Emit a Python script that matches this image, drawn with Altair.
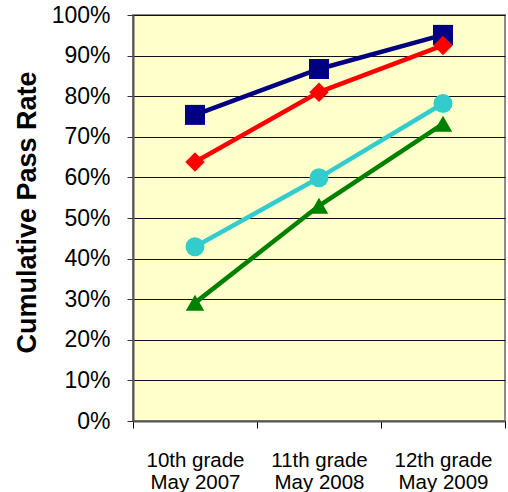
import altair as alt
import pandas as pd

categories = ["10th grade|May 2007", "11th grade|May 2008", "12th grade|May 2009"]
series_names = ["Series 1", "Series 2", "Series 3", "Series 4"]
series_values = [
    [0.754, 0.867, 0.951],
    [0.638, 0.810, 0.925],
    [0.429, 0.599, 0.782],
    [0.291, 0.530, 0.732],
]
series_colors = ["#000080", "#FF0000", "#33CCCC", "#008000"]
series_shapes = ["square", "diamond", "circle", "triangle-up"]
y_ticks = [0.0, 0.1, 0.2, 0.3, 0.4, 0.5, 0.6, 0.7, 0.8, 0.9, 1.0]

rows = []
for name, vals in zip(series_names, series_values):
    for cat, v in zip(categories, vals):
        rows.append({"cat": cat, "series": name, "value": v})
df = pd.DataFrame(rows)

x_enc = alt.X(
    "cat:N",
    sort=categories,
    scale=alt.Scale(type="band", paddingInner=0, paddingOuter=0),
    bandPosition=0.5,
    axis=alt.Axis(
        title=None,
        labelAngle=0,
        labelExpr="split(datum.label, '|')",
        labelFont="Liberation Sans",
        labelFontSize=20.5,
        labelLineHeight=22,
        labelColor="black",
        labelPadding=22,
        labelBaseline="top",
        tickBand="extent",
        tickSize=7,
        tickColor="black",
        tickWidth=1,
        domainColor="#555555",
        domainWidth=2,
        grid=False,
    ),
)
y_enc = alt.Y(
    "value:Q",
    scale=alt.Scale(domain=[0, 1], nice=False, zero=True),
    axis=alt.Axis(
        title="Cumulative Pass Rate",
        values=y_ticks,
        format=".0%",
        labelFont="Liberation Sans",
        labelFontSize=23,
        labelColor="black",
        labelPadding=17,
        tickSize=6,
        tickColor="#333333",
        domainColor="#555555",
        domainWidth=2,
        grid=True,
        gridColor="#111111",
        gridWidth=1.2,
        titleFont="Liberation Sans",
        titleFontSize=27,
        titleFontWeight="bold",
        titleColor="black",
        titleX=-106,
        titleY=197,
        titleAngle=270,
        titleAlign="center",
        titleBaseline="middle",
    ),
)
color_enc = alt.Color(
    "series:N",
    scale=alt.Scale(domain=series_names, range=series_colors),
    legend=None,
)
shape_enc = alt.Shape(
    "series:N",
    scale=alt.Scale(domain=series_names, range=series_shapes),
    legend=None,
)

base = alt.Chart(df)
lines = base.mark_line(strokeWidth=4.5).encode(x=x_enc, y=y_enc, color=color_enc, detail="series:N")
points = base.mark_point(filled=True, opacity=1).encode(
    x=x_enc,
    y=y_enc,
    color=color_enc,
    shape=shape_enc,
    size=alt.Size(
        "series:N",
        scale=alt.Scale(domain=series_names, range=[400, 340, 290, 370]),
        legend=None,
    ),
)

chart = (
    alt.layer(lines, points)
    .properties(
        width=372,
        height=406,
        autosize=alt.AutoSizeParams(type="none"),
        padding={"left": 133, "top": 15, "right": 3, "bottom": 71},
        background="white",
    )
    .configure_view(fill="#FFFFCC", stroke="#8C8C8C", strokeWidth=2)
)

chart.save("out.html", embed_options={"renderer": "svg", "actions": False})
